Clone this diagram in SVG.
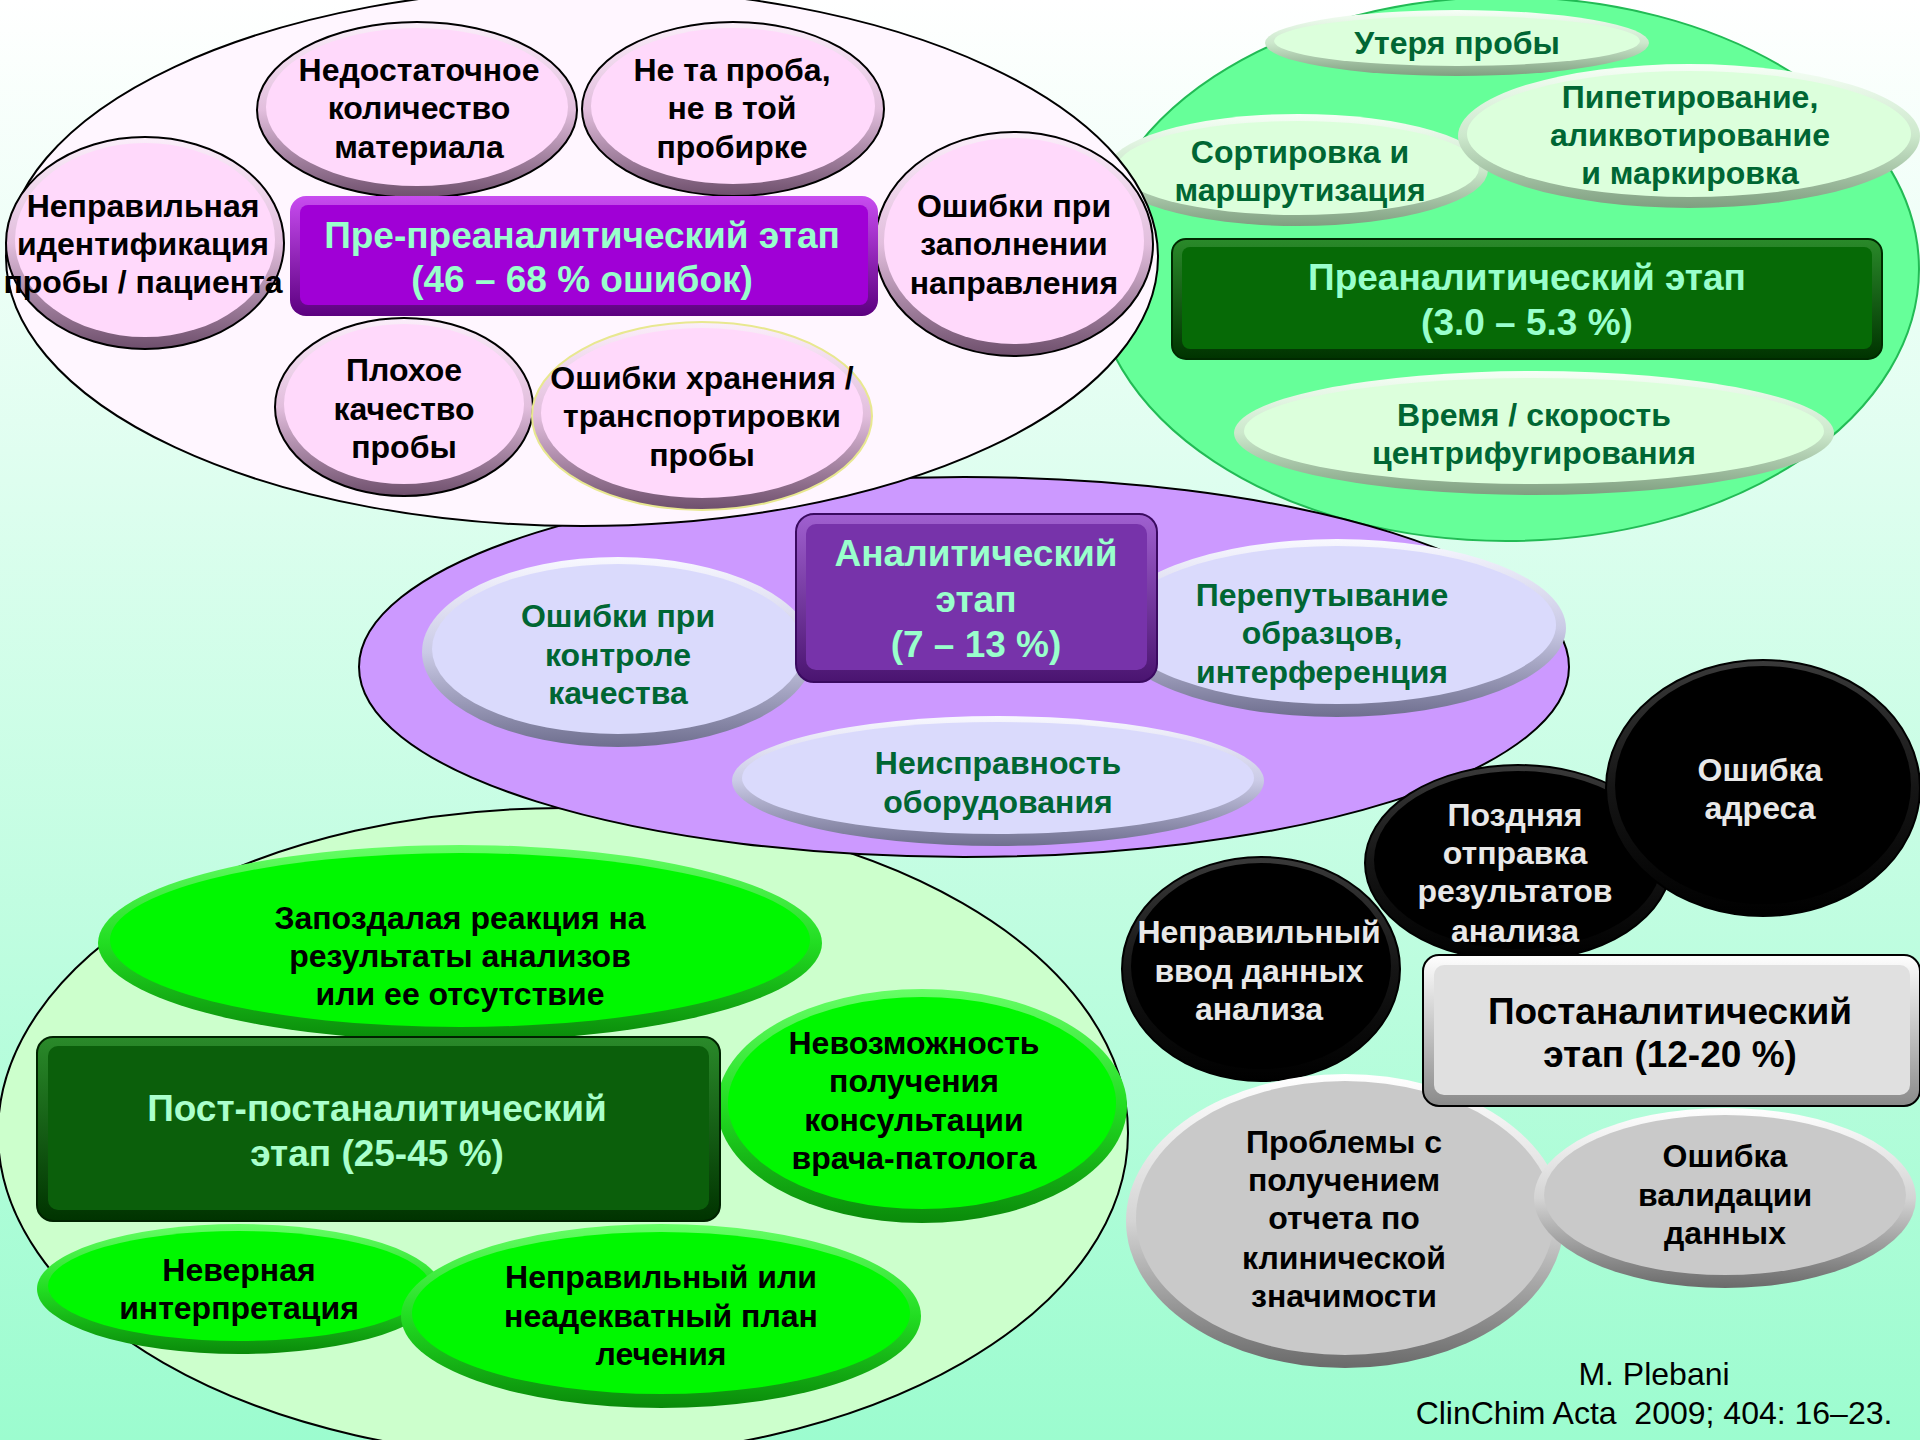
<svg xmlns="http://www.w3.org/2000/svg" width="1920" height="1440" viewBox="0 0 1920 1440">
<defs>
<linearGradient id="bg" x1="0" y1="0" x2="0" y2="1"><stop offset="0" stop-color="#ffffff"/><stop offset="1" stop-color="#9cfccf"/></linearGradient>
<linearGradient id="gPink" x1="0" y1="0" x2="0" y2="1"><stop offset="0" stop-color="#fbeefa"/><stop offset="0.5" stop-color="#e2bedd"/><stop offset="1" stop-color="#6e4f6c"/></linearGradient>
<linearGradient id="gLtGreen" x1="0" y1="0" x2="0" y2="1"><stop offset="0" stop-color="#f6fff6"/><stop offset="0.5" stop-color="#cce8cc"/><stop offset="1" stop-color="#7f9f80"/></linearGradient>
<linearGradient id="gLav" x1="0" y1="0" x2="0" y2="1"><stop offset="0" stop-color="#f8f8ff"/><stop offset="0.5" stop-color="#cacae6"/><stop offset="1" stop-color="#6f6f8f"/></linearGradient>
<linearGradient id="gBright" x1="0" y1="0" x2="0" y2="1"><stop offset="0" stop-color="#66ff66"/><stop offset="0.5" stop-color="#22dd22"/><stop offset="1" stop-color="#0a8a0a"/></linearGradient>
<linearGradient id="gBlack" x1="0" y1="0" x2="0" y2="1"><stop offset="0" stop-color="#3a3a3a"/><stop offset="0.5" stop-color="#151515"/><stop offset="1" stop-color="#000000"/></linearGradient>
<linearGradient id="gGray" x1="0" y1="0" x2="0" y2="1"><stop offset="0" stop-color="#ffffff"/><stop offset="0.5" stop-color="#d4d4d4"/><stop offset="1" stop-color="#6a6a6a"/></linearGradient>
<linearGradient id="gPurpleRim" x1="0" y1="0" x2="0" y2="1"><stop offset="0" stop-color="#c84cf0"/><stop offset="1" stop-color="#5c0080"/></linearGradient>
<linearGradient id="gDkGreenRim" x1="0" y1="0" x2="0" y2="1"><stop offset="0" stop-color="#2a8a2a"/><stop offset="1" stop-color="#003300"/></linearGradient>
<linearGradient id="gAnRim" x1="0" y1="0" x2="0" y2="1"><stop offset="0" stop-color="#a060d0"/><stop offset="1" stop-color="#4a1470"/></linearGradient>
<linearGradient id="gGrayRim" x1="0" y1="0" x2="0" y2="1"><stop offset="0" stop-color="#ffffff"/><stop offset="1" stop-color="#8a8a8a"/></linearGradient>
</defs>
<style>
text{font-family:"Liberation Sans",Arial,sans-serif;font-weight:bold;text-anchor:middle}
.t{font-size:32px;fill:#000}
.tg{font-size:32px;fill:#006633}
.tw{font-size:32px;fill:#e8e8e8}
.th{font-size:37px;fill:#99ffcc}
.thk{font-size:37px;fill:#000}
.cite{font-size:32px;font-weight:normal;fill:#000}
.pkO{fill:url(#gPink);stroke:#000;stroke-width:2}
.pkI{fill:#ffd9fb}
.lgO{fill:url(#gLtGreen)}
.lgI{fill:#dcffdc}
.lvO{fill:url(#gLav)}
.lvI{fill:#dadafc}
.bgO{fill:url(#gBright)}
.bgI{fill:#00f800}
.bkO{fill:url(#gBlack);stroke:#000;stroke-width:2}
.bkI{fill:#000}
.gyO{fill:url(#gGray)}
.gyI{fill:#c9c9c9}
</style>
<rect x="0" y="0" width="1920" height="1440" fill="url(#bg)"/>

<!-- Preanalytic (green) -->
<g id="preanalytic-group">
<ellipse cx="1506" cy="269" rx="413" ry="272" fill="#66ff99" stroke="#22bb55" stroke-width="2"/>
<g id="n-sort"><ellipse class="lgO" cx="1298" cy="170" rx="190" ry="56"/><ellipse class="lgI" cx="1298" cy="168" rx="181" ry="47"/>
<text class="tg" x="1300" y="163">Сортировка и</text><text class="tg" x="1300" y="201">маршрутизация</text></g>
<g id="n-pipet"><ellipse class="lgO" cx="1689" cy="136" rx="231" ry="72"/><ellipse class="lgI" cx="1689" cy="134" rx="222" ry="63"/>
<text class="tg" x="1690" y="108">Пипетирование,</text><text class="tg" x="1690" y="146">аликвотирование</text><text class="tg" x="1690" y="184">и маркировка</text></g>
<g id="n-loss"><ellipse class="lgO" cx="1457" cy="43" rx="192" ry="33"/><ellipse class="lgI" cx="1457" cy="41" rx="183" ry="25"/>
<text class="tg" x="1457" y="54">Утеря пробы</text></g>
<g id="n-centr"><ellipse class="lgO" cx="1534" cy="433" rx="300" ry="62"/><ellipse class="lgI" cx="1534" cy="431" rx="290" ry="53"/>
<text class="tg" x="1534" y="426">Время / скорость</text><text class="tg" x="1534" y="464">центрифугирования</text></g>
<g id="n-preanalytic"><rect x="1172" y="239" width="710" height="120" rx="14" fill="url(#gDkGreenRim)" stroke="#002a00" stroke-width="2"/><rect x="1182" y="247" width="690" height="102" rx="8" fill="#066a06"/>
<text class="th" x="1527" y="290">Преаналитический этап</text><text class="th" x="1527" y="335">(3.0 – 5.3 %)</text></g>
</g>

<!-- Post-postanalytic -->
<g id="postpost-group">
<ellipse cx="563" cy="1133" rx="565" ry="325" fill="#ccffcc" stroke="#000" stroke-width="2"/>
<g id="n-delay"><ellipse class="bgO" cx="460" cy="943" rx="362" ry="98"/><ellipse class="bgI" cx="460" cy="940" rx="350" ry="87"/>
<text class="t" x="460" y="929">Запоздалая реакция на</text><text class="t" x="460" y="967">результаты анализов</text><text class="t" x="460" y="1005">или ее отсутствие</text></g>
<g id="n-consult"><ellipse class="bgO" cx="922" cy="1106" rx="205" ry="117"/><ellipse class="bgI" cx="922" cy="1103" rx="194" ry="106"/>
<text class="t" x="914" y="1054">Невозможность</text><text class="t" x="914" y="1092">получения</text><text class="t" x="914" y="1131">консультации</text><text class="t" x="914" y="1169">врача-патолога</text></g>
<g id="n-postpost"><rect x="37" y="1037" width="683" height="184" rx="16" fill="url(#gDkGreenRim)" stroke="#002200" stroke-width="2"/><rect x="48" y="1046" width="661" height="164" rx="10" fill="#0b5f0b"/>
<text class="th" x="377" y="1121" style="fill:#aaffcc">Пост-постаналитический</text><text class="th" x="377" y="1166" style="fill:#aaffcc">этап (25-45 %)</text></g>
<g id="n-interp"><ellipse class="bgO" cx="239" cy="1289" rx="202" ry="65"/><ellipse class="bgI" cx="239" cy="1286" rx="191" ry="55"/>
<text class="t" x="239" y="1281">Неверная</text><text class="t" x="239" y="1319">интерпретация</text></g>
<g id="n-plan"><ellipse class="bgO" cx="661" cy="1316" rx="260" ry="92"/><ellipse class="bgI" cx="661" cy="1313" rx="249" ry="81"/>
<text class="t" x="661" y="1288">Неправильный или</text><text class="t" x="661" y="1327">неадекватный план</text><text class="t" x="661" y="1365">лечения</text></g>
</g>

<!-- Analytic -->
<g id="analytic-group">
<ellipse cx="964" cy="667" rx="605" ry="190" fill="#cc99ff" stroke="#000" stroke-width="2"/>
<g id="n-qc"><ellipse class="lvO" cx="618" cy="652" rx="196" ry="95"/><ellipse class="lvI" cx="618" cy="649" rx="186" ry="85"/>
<text class="tg" x="618" y="627">Ошибки при</text><text class="tg" x="618" y="666">контроле</text><text class="tg" x="618" y="704">качества</text></g>
<g id="n-mixup"><ellipse class="lvO" cx="1337" cy="628" rx="229" ry="89"/><ellipse class="lvI" cx="1337" cy="625" rx="219" ry="79"/>
<text class="tg" x="1322" y="606">Перепутывание</text><text class="tg" x="1322" y="644">образцов,</text><text class="tg" x="1322" y="683">интерференция</text></g>
<g id="n-equip"><ellipse class="lvO" cx="998" cy="781" rx="266" ry="65"/><ellipse class="lvI" cx="998" cy="778" rx="256" ry="56"/>
<text class="tg" x="998" y="774">Неисправность</text><text class="tg" x="998" y="813">оборудования</text></g>
<g id="n-analytic"><rect x="796" y="514" width="361" height="168" rx="18" fill="url(#gAnRim)" stroke="#3a0a60" stroke-width="2"/><rect x="806" y="524" width="341" height="146" rx="10" fill="#7733aa"/>
<text class="th" x="976" y="566">Аналитический</text><text class="th" x="976" y="612">этап</text><text class="th" x="976" y="657">(7 – 13 %)</text></g>
</g>

<!-- Pre-preanalytic -->
<g id="prepre-group">
<ellipse cx="582" cy="257" rx="576" ry="269" fill="#fff6ff" stroke="#000" stroke-width="2"/>
<g id="n-amount"><ellipse class="pkO" cx="417" cy="110" rx="160" ry="88"/><ellipse class="pkI" cx="417" cy="107" rx="151" ry="79"/>
<text class="t" x="419" y="81">Недостаточное</text><text class="t" x="419" y="119">количество</text><text class="t" x="419" y="158">материала</text></g>
<g id="n-wrong"><ellipse class="pkO" cx="733" cy="109" rx="151" ry="87"/><ellipse class="pkI" cx="733" cy="106" rx="142" ry="78"/>
<text class="t" x="732" y="81">Не та проба,</text><text class="t" x="732" y="119">не в той</text><text class="t" x="732" y="158">пробирке</text></g>
<g id="n-ident"><ellipse class="pkO" cx="145" cy="243" rx="139" ry="106"/><ellipse class="pkI" cx="145" cy="240" rx="130" ry="97"/>
<text class="t" x="143" y="217">Неправильная</text><text class="t" x="143" y="255">идентификация</text><text class="t" x="143" y="293">пробы / пациента</text></g>
<g id="n-form"><ellipse class="pkO" cx="1014" cy="244" rx="139" ry="112"/><ellipse class="pkI" cx="1014" cy="241" rx="130" ry="103"/>
<text class="t" x="1014" y="217">Ошибки при</text><text class="t" x="1014" y="255">заполнении</text><text class="t" x="1014" y="294">направления</text></g>
<g id="n-quality"><ellipse class="pkO" cx="404" cy="407" rx="129" ry="89"/><ellipse class="pkI" cx="404" cy="404" rx="120" ry="80"/>
<text class="t" x="404" y="381">Плохое</text><text class="t" x="404" y="420">качество</text><text class="t" x="404" y="458">пробы</text></g>
<g id="n-storage"><ellipse class="pkO" cx="702" cy="416" rx="170" ry="94" style="stroke:#e8e890"/><ellipse class="pkI" cx="702" cy="413" rx="161" ry="85"/>
<text class="t" x="702" y="389">Ошибки хранения /</text><text class="t" x="702" y="427">транспортировки</text><text class="t" x="702" y="466">пробы</text></g>
<g id="n-prepre"><rect x="290" y="196" width="588" height="120" rx="16" fill="url(#gPurpleRim)"/><rect x="300" y="205" width="568" height="100" rx="8" fill="#a000d6"/>
<text class="th" x="582" y="248">Пре-преаналитический этап</text><text class="th" x="582" y="292">(46 – 68 % ошибок)</text></g>
</g>

<!-- Postanalytic -->
<g id="postanalytic-group">
<g id="n-input"><ellipse class="bkO" cx="1261" cy="969" rx="139" ry="112"/><ellipse class="bkI" cx="1261" cy="966" rx="130" ry="103"/>
<text class="tw" x="1259" y="943">Неправильный</text><text class="tw" x="1259" y="982">ввод данных</text><text class="tw" x="1259" y="1020">анализа</text></g>
<g id="n-late"><ellipse class="bkO" cx="1518" cy="863" rx="153" ry="98"/><ellipse class="bkI" cx="1518" cy="860" rx="144" ry="89"/>
<text class="tw" x="1515" y="826">Поздняя</text><text class="tw" x="1515" y="864">отправка</text><text class="tw" x="1515" y="902">результатов</text><text class="tw" x="1515" y="942">анализа</text></g>
<g id="n-address"><ellipse class="bkO" cx="1763" cy="788" rx="157" ry="128"/><ellipse class="bkI" cx="1763" cy="785" rx="148" ry="119"/>
<text class="tw" x="1760" y="781">Ошибка</text><text class="tw" x="1760" y="819">адреса</text></g>
<g id="n-report"><ellipse class="gyO" cx="1345" cy="1221" rx="219" ry="147"/><ellipse class="gyI" cx="1345" cy="1218" rx="209" ry="137"/>
<text class="t" x="1344" y="1153">Проблемы с</text><text class="t" x="1344" y="1191">получением</text><text class="t" x="1344" y="1229">отчета по</text><text class="t" x="1344" y="1269">клинической</text><text class="t" x="1344" y="1307">значимости</text></g>
<g id="n-valid"><ellipse class="gyO" cx="1725" cy="1198" rx="191" ry="90"/><ellipse class="gyI" cx="1725" cy="1195" rx="181" ry="80"/>
<text class="t" x="1725" y="1167">Ошибка</text><text class="t" x="1725" y="1206">валидации</text><text class="t" x="1725" y="1244">данных</text></g>
<g id="n-postanalytic"><rect x="1423" y="955" width="497" height="151" rx="16" fill="url(#gGrayRim)" stroke="#000" stroke-width="2"/><rect x="1434" y="965" width="476" height="130" rx="10" fill="#e0e0e0"/>
<text class="thk" x="1670" y="1024">Постаналитический</text><text class="thk" x="1670" y="1067">этап (12-20 %)</text></g>
</g>

<g id="connectors"/>

<g id="citation">
<text class="cite" x="1654" y="1385">M. Plebani</text>
<text class="cite" x="1654" y="1424" xml:space="preserve">ClinChim Acta  2009; 404: 16–23.</text>
</g>
</svg>
